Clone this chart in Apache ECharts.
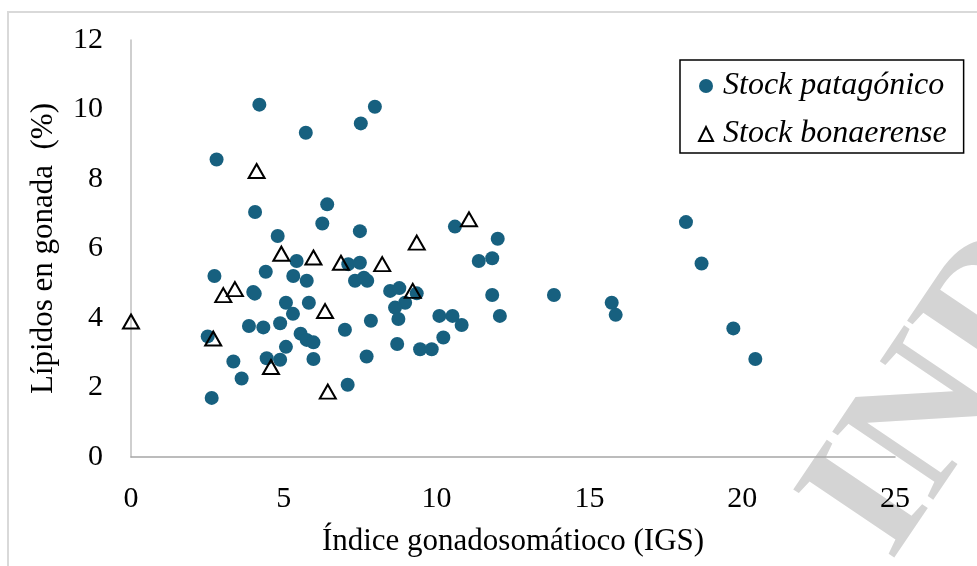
<!DOCTYPE html>
<html>
<head>
<meta charset="utf-8" />
<title></title>
<script src="https://cdn.jsdelivr.net/npm/echarts@6/dist/echarts.min.js"></script>
<style>
body { padding: 0px; margin: 0px; background: #fff; }
</style>
</head>
<body>
<div id="main" style="width: 977px; height: 566px;"></div>
<script type="text/javascript">
// Stock patagonico (circulos)
var patX = [4.20, 2.80, 4.06, 7.98, 7.52, 5.72, 6.42, 6.26, 7.49, 10.60, 4.80, 5.42, 2.73, 4.41, 5.31, 4.00, 4.05, 5.07, 5.30, 3.86,
  4.33, 4.88, 5.55, 2.51, 3.35, 4.44, 4.88, 5.07, 3.62, 2.64, 7.11, 7.49, 11.38, 5.75, 7.33, 7.73, 7.62, 8.48, 8.78, 9.35,
  8.97, 8.64, 8.75, 5.82, 7.85, 7.00, 5.75, 5.97, 5.97, 8.71, 7.71, 10.09, 10.52, 10.82, 10.22, 9.46, 9.84, 7.09, 12.00, 11.82,
  11.82, 12.07, 13.84, 15.73, 15.86, 18.16, 18.67, 19.71, 20.43];
var patY = [10.14, 8.56, 7.05, 10.08, 9.60, 9.33, 7.27, 6.72, 6.50, 6.63, 6.36, 5.64, 5.21, 5.33, 5.21, 4.75, 4.70, 4.44, 4.12, 3.77,
  3.73, 3.85, 3.55, 3.47, 2.75, 2.84, 2.80, 3.17, 2.26, 1.70, 5.55, 5.59, 5.64, 5.07, 5.07, 5.07, 5.16, 4.78, 4.86, 4.71,
  4.44, 4.30, 3.97, 4.44, 3.92, 3.66, 3.37, 3.30, 2.82, 3.25, 2.89, 4.06, 4.06, 3.80, 3.44, 3.10, 3.10, 2.08, 6.28, 5.72,
  4.66, 4.06, 4.66, 4.44, 4.09, 6.76, 5.57, 3.70, 2.82];
// Stock bonaerense (triangulos)
var bonX = [0, 2.69, 3.02, 3.40, 4.11, 4.58, 4.92, 5.97, 6.35, 6.44, 6.87, 8.22, 9.22, 9.35, 11.06];
var bonY = [3.90, 3.41, 4.66, 4.83, 8.23, 2.59, 5.85, 5.74, 4.20, 1.88, 5.59, 5.55, 4.78, 6.17, 6.84];
var seriesNames = ['Stock patagónico', 'Stock bonaerense'];

function pairs(xs, ys) {
  return xs.map(function (x, i) { return [x, ys[i]]; });
}

var serif = '"Liberation Serif", "Times New Roman", serif';
var mychart = echarts.init(document.getElementById('main'));

mychart.setOption({
  animation: false,
  grid: { left: 131, right: 82, top: 40, bottom: 109, outerBoundsMode: 'none' },
  xAxis: {
    type: 'value', min: 0, max: 25, interval: 5,
    name: 'Índice gonadosomátioco (IGS)', nameLocation: 'middle', nameGap: 69,
    nameTextStyle: { fontFamily: serif, fontSize: 31, color: '#000' },
    axisLine: { lineStyle: { color: '#a6a6a6', width: 1.5 } },
    axisTick: { show: false },
    splitLine: { show: false },
    axisLabel: { fontFamily: serif, fontSize: 30, color: '#000', margin: 27 }
  },
  yAxis: {
    type: 'value', min: 0, max: 12, interval: 2,
    name: 'Lípidos en gonada  (%)', nameLocation: 'middle', nameGap: 72,
    nameTextStyle: { fontFamily: serif, fontSize: 31, color: '#000' },
    axisLine: { show: true, lineStyle: { color: '#bfbfbf', width: 1.5 } },
    axisTick: { show: false },
    splitLine: { show: false },
    axisLabel: { fontFamily: serif, fontSize: 30, color: '#000', margin: 28 }
  },
  legend: {
    orient: 'vertical', left: 680, top: 60,
    padding: [10, 17, 3, 18], itemGap: 16,
    borderColor: '#000', borderWidth: 1.5,
    itemWidth: 14, itemHeight: 14,
    textStyle: { fontFamily: serif, fontSize: 32, fontStyle: 'italic', color: '#000', padding: [0, 0, 0, 5] },
    data: [
      { name: seriesNames[0], icon: 'circle' },
      { name: seriesNames[1], icon: 'triangle' }
    ]
  },
  series: [
    {
      name: seriesNames[0], type: 'scatter', symbol: 'circle', symbolSize: 14,
      itemStyle: { color: '#17607f', opacity: 1 },
      data: pairs(patX, patY)
    },
    {
      name: seriesNames[1], type: 'scatter', symbol: 'triangle', symbolSize: [16, 14],
      itemStyle: { color: 'rgba(255,255,255,0)', borderColor: '#000', borderWidth: 2, opacity: 1 },
      data: pairs(bonX, bonY)
    }
  ],
  graphic: [
    {
      type: 'rect', shape: { x: 8, y: 12, width: 1000, height: 600 },
      style: { fill: 'none', stroke: '#d9d9d9', lineWidth: 2 }, silent: true
    },
    {
      type: 'text', x: 928, y: 588, rotation: 56 * Math.PI / 180, z: -10, silent: true,
      style: { text: 'INDI', font: 'bold 186px "Liberation Serif"', fill: '#d4d4d4', textVerticalAlign: 'bottom' }
    }
  ]
});
</script>
</body>
</html>
